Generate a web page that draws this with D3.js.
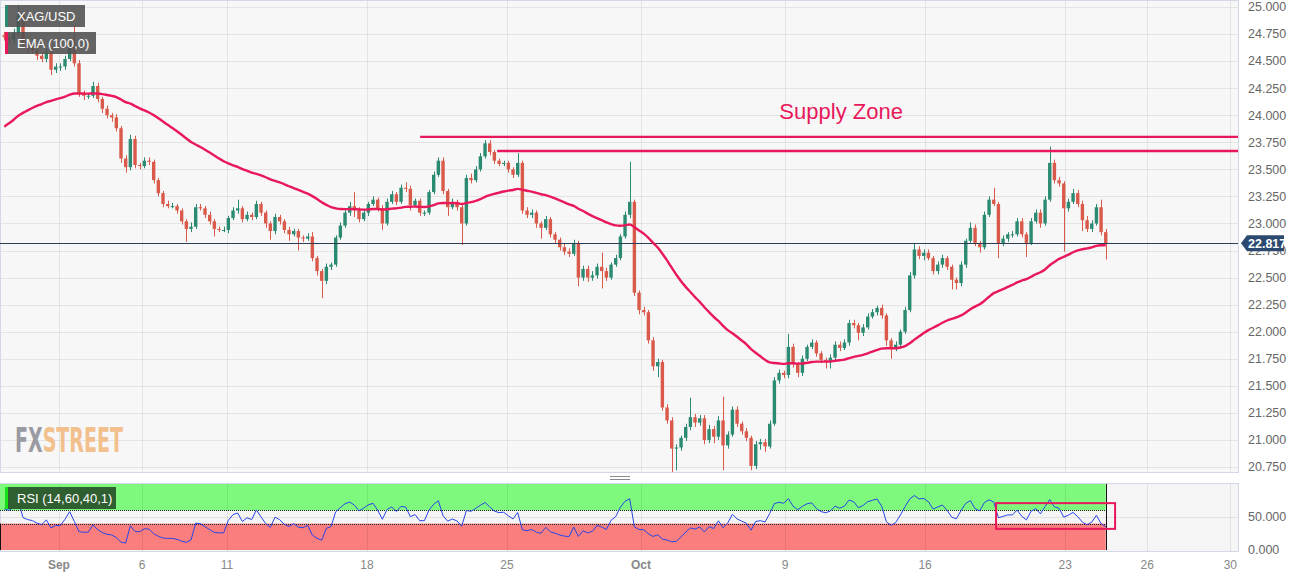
<!DOCTYPE html>
<html>
<head>
<meta charset="utf-8">
<title>XAG/USD</title>
<script src="https://cdn.jsdelivr.net/npm/d3@7"></script>
<style>
  body { margin: 0; background: #fff; font-family: "Liberation Sans", Arial, sans-serif; }
  svg { display: block; }
</style>
</head>
<body>
<svg id="chart" width="1303" height="577"></svg>
<script>
// 4h closes, one array per trading week (Aug 30 .. Oct 24)
var wk0Close = [24.72, 24.70, 24.76, 24.92, 24.66, 24.62,  24.60, 24.55, 24.52, 24.58, 24.42, 24.45,  24.45, 24.52, 24.63, 24.48, 24.20, 24.18];
var wk1Close = [24.18, 24.27, 24.15, 24.06, 24.00, 23.98,  23.88, 23.60, 23.52, 23.78, 23.54, 23.53,  23.58, 23.57, 23.40, 23.28, 23.18, 23.16,  23.16, 23.12, 23.02, 22.95, 22.97, 23.15,  23.14, 23.08, 23.02, 22.95, 22.94, 22.94];
var wk2Close = [23.05, 23.12, 23.14, 23.04, 23.08, 23.06,  23.18, 23.10, 23.00, 22.93, 23.06, 23.02,  22.94, 22.90, 22.93, 22.87, 22.86, 22.88,  22.68, 22.56, 22.47, 22.60, 22.62, 22.87,  22.98, 23.10, 23.16, 23.12, 23.04, 23.10];
var wk3Close = [23.18, 23.22, 23.14, 23.00, 23.20, 23.27,  23.20, 23.33, 23.32, 23.17, 23.21, 23.10,  23.10, 23.29, 23.45, 23.58, 23.30, 23.15,  23.20, 23.15, 23.00, 23.42, 23.40, 23.50,  23.62, 23.74, 23.66, 23.58, 23.55, 23.56];
var wk4Close = [23.50, 23.45, 23.56, 23.12, 23.08, 23.10,  23.00, 22.96, 23.04, 22.90, 22.85, 22.78,  22.74, 22.72, 22.82, 22.50, 22.58, 22.50,  22.52, 22.60, 22.56, 22.50, 22.62, 22.68,  22.88, 23.08, 23.20, 22.36, 22.20, 22.18];
var wk5Close = [21.92, 21.68, 21.72, 21.30, 21.18, 20.92,  20.93, 21.02, 21.12, 21.21, 21.16, 21.20,  21.00, 21.10, 21.03, 21.18, 20.95, 21.05,  21.28, 21.15, 21.08, 21.02, 20.76, 20.96,  20.98, 20.94, 21.15, 21.55, 21.62, 21.60];
var wk6Close = [21.86, 21.70, 21.62, 21.75, 21.86, 21.90,  21.80, 21.74, 21.72, 21.76, 21.88, 21.85,  21.90, 22.08, 22.06, 21.99, 22.04, 22.14,  22.18, 22.22, 22.15, 21.92, 21.84, 21.88,  22.00, 22.20, 22.52, 22.76, 22.70, 22.73];
var wk7Close = [22.68, 22.56, 22.62, 22.68, 22.60, 22.48,  22.45, 22.62, 22.84, 22.96, 22.82, 22.78,  23.08, 23.22, 23.18, 22.82, 22.86, 22.90,  22.90, 23.02, 22.90, 22.82, 23.02, 23.10,  23.00, 23.22, 23.56, 23.40, 23.37, 23.14];
var wk8Close = [23.20, 23.28, 23.18, 23.03, 22.95, 23.00,  23.15, 22.92, 22.817];
var firstOpen = 24.74;

// wick lengths in cents above / below the body
var wk0Up = [3,3,4,10,4,3, 4,3,3,4,3,3, 3,3,4,20,3,3];
var wk0Dn = [3,4,3,3,3,4, 3,4,3,3,5,3, 4,3,2,3,3,4];
var wk1Up = [2,4,3,2,3,2, 3,2,3,4,3,2, 3,3,2,2,2,3, 3,2,2,2,4,3, 3,2,3,2,2,3];
var wk1Dn = [3,2,3,4,3,4, 3,4,5,3,3,3, 2,3,3,3,3,2, 2,3,3,12,3,2, 2,3,3,7,2,2];
var wk2Up = [2,3,8,2,3,2, 3,2,2,2,3,2, 2,3,2,2,2,3, 4,2,2,3,2,2, 3,3,4,13,3,3];
var wk2Dn = [3,2,3,3,2,3, 2,3,4,8,3,3, 3,6,2,12,3,2, 3,4,16,3,3,2, 2,2,3,6,3,2];
var wk3Up = [2,3,2,3,3,3, 2,3,5,3,2,2, 2,2,3,3,3,2, 3,2,2,3,4,3, 3,3,3,2,2,2];
var wk3Dn = [3,2,3,6,2,2, 3,2,3,5,2,3, 3,2,2,2,3,8, 2,3,20,2,3,2, 2,2,3,3,2,2];
var wk4Up = [2,2,9,2,3,3, 2,2,3,2,2,2, 3,3,3,2,3,3, 4,3,13,3,2,3, 2,3,37,2,2,3];
var wk4Dn = [3,3,2,3,3,3, 4,10,2,3,3,3, 3,3,2,8,3,4, 3,3,16,3,2,2, 2,2,3,3,4,3];
var wk5Up = [2,3,3,2,3,3, 3,2,3,18,3,3, 3,4,3,4,22,3, 3,3,2,3,2,3, 3,3,3,3,3,2];
var wk5Dn = [3,4,10,3,3,22, 20,3,3,3,4,3, 4,3,6,3,23,3, 2,3,3,3,4,3, 5,5,2,2,3,3];
var wk6Up = [12,3,2,3,2,3, 2,2,2,3,3,3, 3,3,3,2,3,3, 3,2,3,2,2,3, 2,3,3,6,3,3];
var wk6Dn = [3,3,4,3,2,2, 3,3,6,6,3,3, 2,3,3,7,3,2, 2,3,3,5,9,2, 3,2,2,3,3,4];
var wk7Up = [3,2,3,3,2,2, 2,3,2,5,3,2, 3,3,11,2,3,2, 3,3,3,2,3,3, 3,3,15,3,3,2];
var wk7Dn = [2,3,3,3,3,9, 6,3,3,2,3,5, 2,2,2,14,3,3, 3,2,3,13,2,2, 4,2,2,3,3,40];
var wk8Up = [3,4,3,3,4,3, 3,7,3];
var wk8Dn = [3,2,3,10,3,3, 2,3,15];

// EMA(100) on 2h bars ~ 50 of these 4h bars; RSI(14) on 2h ~ 7 of them
var emaBars = 50, emaSeed = 23.86;
var rsiBars = 7, rsiSeedGain = 0.05, rsiSeedLoss = 0.03;

// axis ticks (position in bars from the left edge)
var xTickPos = [12.2, 30, 48.2, 78.2, 108.2, 136.9, 167.8, 197.8, 227.8, 245.4, 263.2];
var xTickText = ["Sep", "6", "11", "18", "25", "Oct", "9", "16", "23", "26", "30"];
var priceTicks = [20.75, 21, 21.25, 21.5, 21.75, 22, 22.25, 22.5, 22.75, 23, 23.25, 23.5, 23.75, 24, 24.25, 24.5, 24.75, 25];
var rsiTicks = [0, 50];

// annotations
var supplyLevels = [23.80, 23.67];
var supplyStart = [89.6, 106.1];
var supplyLabel = { text: "Supply Zone", bar: 179.8, price: 23.965 };
var rsiBox = { from: 213, to: 238.5, top: 71, bottom: 32 };
var lastPrice = 22.817;

var closes = [].concat(wk0Close, wk1Close, wk2Close, wk3Close, wk4Close, wk5Close, wk6Close, wk7Close, wk8Close);
var upW = [].concat(wk0Up, wk1Up, wk2Up, wk3Up, wk4Up, wk5Up, wk6Up, wk7Up, wk8Up);
var dnW = [].concat(wk0Dn, wk1Dn, wk2Dn, wk3Dn, wk4Dn, wk5Dn, wk6Dn, wk7Dn, wk8Dn);

var candles = closes.map(function(c, i) {
  var o = i === 0 ? firstOpen : closes[i - 1];
  return {
    i: i, o: o, c: c,
    h: Math.max(o, c) + upW[i] / 100,
    l: Math.min(o, c) - dnW[i] / 100
  };
});

var ema = [];
var k = 2 / (emaBars + 1);
closes.forEach(function(c, i) {
  var prev = i === 0 ? emaSeed : ema[i - 1];
  ema.push(prev + k * (c - prev));
});

var rsi = [];
var ag = rsiSeedGain, al = rsiSeedLoss;
closes.forEach(function(c, i) {
  if (i > 0) {
    var ch = c - closes[i - 1];
    ag = (ag * (rsiBars - 1) + Math.max(ch, 0)) / rsiBars;
    al = (al * (rsiBars - 1) + Math.max(-ch, 0)) / rsiBars;
  }
  rsi.push(100 - 100 / (1 + ag / al));
});

var W = 1238, mainBottom = 472, rsiTop = 483, rsiBottom = 551;
var UP = "#2b8a72", DOWN = "#d95a4a", PINK = "#e8185a";

var svg = d3.select("#chart");
var x = d3.scaleLinear().domain([0, 265]).range([2, 2 + 265 * 4.667]);
var y = d3.scaleLinear().domain([20.75, 25]).range([467, 7]);
var yr = d3.scaleLinear().domain([0, 100]).range([550, 484]);
var cx = function(i) { return x(i + 0.5); };

var defs = svg.append("defs");
defs.append("clipPath").attr("id", "mainClip")
  .append("rect").attr("x", 0).attr("y", 0).attr("width", W).attr("height", mainBottom);
defs.append("clipPath").attr("id", "rsiClip")
  .append("rect").attr("x", 0).attr("y", rsiTop).attr("width", W).attr("height", rsiBottom - rsiTop);

// panels
svg.append("rect").attr("x", 0.5).attr("y", 0.5).attr("width", W).attr("height", mainBottom)
  .attr("fill", "#f7f7f7").attr("stroke", "#d3d9e4");
svg.append("rect").attr("x", 0.5).attr("y", rsiTop + 0.5).attr("width", W).attr("height", rsiBottom - rsiTop)
  .attr("fill", "#f5f5f5").attr("stroke", "#d3d9e4");

// rsi zones
var lastX = cx(closes.length - 1);
svg.append("rect").attr("x", 0).attr("y", yr(100)).attr("width", lastX).attr("height", yr(60) - yr(100))
  .attr("fill", "#7ef97e");
svg.append("rect").attr("x", 0).attr("y", yr(40)).attr("width", lastX).attr("height", yr(0) - yr(40))
  .attr("fill", "#fa7e7e");

// grid
var grid = svg.append("g").attr("stroke", "rgba(0,0,0,0.075)").attr("stroke-width", 1);
grid.selectAll("line.v").data(xTickPos).enter().append("line")
  .attr("x1", function(d) { return Math.round(x(d)) + 0.5; })
  .attr("x2", function(d) { return Math.round(x(d)) + 0.5; })
  .attr("y1", 1).attr("y2", mainBottom);
grid.selectAll("line.vr").data(xTickPos).enter().append("line")
  .attr("x1", function(d) { return Math.round(x(d)) + 0.5; })
  .attr("x2", function(d) { return Math.round(x(d)) + 0.5; })
  .attr("y1", rsiTop + 1).attr("y2", rsiBottom);
grid.selectAll("line.h").data(priceTicks).enter().append("line")
  .attr("x1", 1).attr("x2", W)
  .attr("y1", function(d) { return Math.round(y(d)) + 0.5; })
  .attr("y2", function(d) { return Math.round(y(d)) + 0.5; });
grid.append("line").attr("x1", 1).attr("x2", W)
  .attr("y1", Math.round(yr(50)) + 0.5).attr("y2", Math.round(yr(50)) + 0.5);

// rsi bands
[60, 40].forEach(function(lv) {
  svg.append("line").attr("x1", 0).attr("x2", lastX)
    .attr("y1", Math.round(yr(lv)) + 0.5).attr("y2", Math.round(yr(lv)) + 0.5)
    .attr("stroke", "#222").attr("stroke-dasharray", "1,1");
});
svg.append("line").attr("x1", Math.round(lastX) + 0.5).attr("x2", Math.round(lastX) + 0.5)
  .attr("y1", yr(100)).attr("y2", yr(0)).attr("stroke", "#111");
svg.append("line").attr("x1", 0.5).attr("x2", 0.5)
  .attr("y1", yr(40)).attr("y2", yr(0)).attr("stroke", "#111");

var rsiLine = d3.line()
  .x(function(d, i) { return cx(i); })
  .y(function(d) { return yr(d); });
svg.append("path").datum(rsi).attr("clip-path", "url(#rsiClip)")
  .attr("d", rsiLine).attr("fill", "none").attr("stroke", "#2944e8").attr("stroke-width", 1);

svg.append("rect")
  .attr("x", x(rsiBox.from)).attr("y", yr(rsiBox.top))
  .attr("width", x(rsiBox.to) - x(rsiBox.from)).attr("height", yr(rsiBox.bottom) - yr(rsiBox.top))
  .attr("fill", "none").attr("stroke", PINK).attr("stroke-width", 2);

// logo: one text, squeezed to the width of the watermark
var logo = svg.append("text").attr("x", 0).attr("y", 0)
  .attr("font-family", "'Liberation Sans Narrow', 'DejaVu Sans Condensed', sans-serif")
  .attr("font-weight", "bold").attr("font-size", 34);
logo.append("tspan").attr("fill", "#9a9aa2").text("FX");
logo.append("tspan").attr("fill", "#f2c08c").text("STREET");
var logoW = logo.node().getComputedTextLength();
logo.attr("transform", "translate(15,452) scale(" + (108 / logoW) + ",1)");

// candles
var main = svg.append("g").attr("clip-path", "url(#mainClip)");
var cg = main.selectAll("g.candle").data(candles).enter().append("g");
cg.append("line")
  .attr("x1", function(d) { return Math.round(cx(d.i)) + 0.5; })
  .attr("x2", function(d) { return Math.round(cx(d.i)) + 0.5; })
  .attr("y1", function(d) { return y(d.h); })
  .attr("y2", function(d) { return y(d.l); })
  .attr("stroke", function(d) { return d.c >= d.o ? UP : DOWN; })
  .attr("stroke-width", 1);
cg.append("rect")
  .attr("x", function(d) { return cx(d.i) - 1.7; })
  .attr("width", 3.4)
  .attr("y", function(d) { return y(Math.max(d.o, d.c)); })
  .attr("height", function(d) { return Math.max(1, Math.abs(y(d.o) - y(d.c))); })
  .attr("fill", function(d) { return d.c >= d.o ? UP : DOWN; });

// last price line
main.append("line").attr("x1", 0).attr("x2", W)
  .attr("y1", Math.round(y(lastPrice)) + 0.5).attr("y2", Math.round(y(lastPrice)) + 0.5)
  .attr("stroke", "#2c3d5a").attr("stroke-width", 1.2);

// ema
var emaLine = d3.line()
  .x(function(d, i) { return cx(i); })
  .y(function(d) { return y(d); })
  .curve(d3.curveMonotoneX);
main.append("path").datum(ema).attr("d", emaLine)
  .attr("fill", "none").attr("stroke", PINK).attr("stroke-width", 2.4);

// supply zone
supplyLevels.forEach(function(lv, j) {
  main.append("line").attr("x1", x(supplyStart[j])).attr("x2", W)
    .attr("y1", y(lv)).attr("y2", y(lv))
    .attr("stroke", PINK).attr("stroke-width", 2.4);
});
svg.append("text").attr("x", x(supplyLabel.bar)).attr("y", y(supplyLabel.price))
  .attr("text-anchor", "middle").attr("font-size", 22).attr("fill", PINK)
  .text(supplyLabel.text);

// drag handle between panes
[476.5, 479.5].forEach(function(yy) {
  svg.append("line").attr("x1", 610).attr("x2", 630).attr("y1", yy).attr("y2", yy)
    .attr("stroke", "#8a8a8a").attr("stroke-width", 1);
});

// legends
function legend(yTop, w, label, strip, fill) {
  svg.append("rect").attr("x", 5).attr("y", yTop).attr("width", w).attr("height", 22)
    .attr("fill", fill);
  svg.append("rect").attr("x", 5).attr("y", yTop).attr("width", 3).attr("height", 22)
    .attr("fill", strip);
  svg.append("text").attr("x", 17).attr("y", yTop + 16)
    .attr("font-size", 13).attr("fill", "#fff").text(label);
}
legend(5, 80, "XAG/USD", UP, "rgba(80,80,80,0.88)");
legend(32, 91, "EMA (100,0)", PINK, "rgba(80,80,80,0.88)");
legend(487, 111, "RSI (14,60,40,1)", "#18e018", "#2f5e30");

// right axis
var ax = svg.append("g").attr("font-size", 12.5).attr("fill", "#666");
ax.selectAll("text.p").data(priceTicks).enter().append("text")
  .attr("x", 1248).attr("y", function(d) { return y(d); }).attr("dy", "0.35em")
  .text(function(d) { return d3.format(".3f")(d); });
ax.selectAll("text.r").data(rsiTicks).enter().append("text")
  .attr("x", 1248).attr("y", function(d) { return yr(d); }).attr("dy", "0.35em")
  .text(function(d) { return d3.format(".3f")(d); });

var ly = y(lastPrice);
svg.append("path")
  .attr("d", "M1241," + ly + " L1247," + (ly - 8) + " L1284," + (ly - 8) + " L1284," + (ly + 8) + " L1247," + (ly + 8) + " Z")
  .attr("fill", "#2c4a70");
svg.append("text").attr("x", 1248).attr("y", ly).attr("dy", "0.36em")
  .attr("font-size", 12.5).attr("font-weight", "bold").attr("fill", "#fff")
  .text(d3.format(".3f")(lastPrice));

// bottom axis
svg.append("g").selectAll("text").data(xTickPos).enter().append("text")
  .attr("x", function(d) { return x(d); }).attr("y", 569)
  .attr("text-anchor", "middle").attr("font-size", 12).attr("fill", "#888")
  .attr("font-weight", function(d, i) { return isNaN(+xTickText[i]) ? "bold" : "normal"; })
  .text(function(d, i) { return xTickText[i]; });
</script>
</body>
</html>
